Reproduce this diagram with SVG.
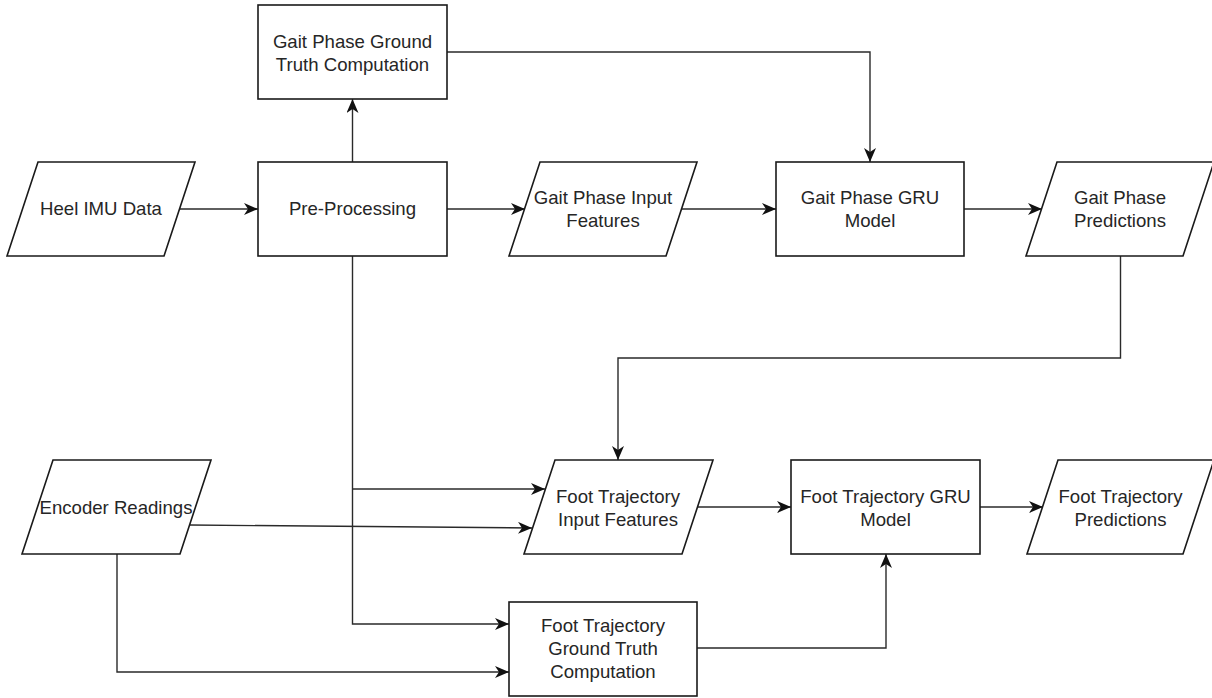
<svg xmlns="http://www.w3.org/2000/svg" width="1212" height="698" viewBox="0 0 1212 698">
<style>
.shape{fill:#ffffff;stroke:#1a1a1a;stroke-width:1.6}
.lbl{font-family:"Liberation Sans",Arial,Helvetica,sans-serif;font-size:18.6px;fill:#262626;text-anchor:middle}
.edge{fill:none;stroke:#2a2a2a;stroke-width:1.4}
</style>
<defs>
<marker id="arr" viewBox="0 0 14 12" refX="14" refY="6" markerWidth="14" markerHeight="12" orient="auto" markerUnits="userSpaceOnUse">
<path d="M0,0 L14,6 L0,12 L4,6 Z" fill="#111111"/>
</marker>
</defs>
<rect width="1212" height="698" fill="#ffffff"/>
<g id="connectors">
<path class="edge" d="M180,209 L258,209" marker-end="url(#arr)"/>
<path class="edge" d="M352.5,162 L352.5,99" marker-end="url(#arr)"/>
<path class="edge" d="M447,52 L870,52 L870,162" marker-end="url(#arr)"/>
<path class="edge" d="M447,209 L525,209" marker-end="url(#arr)"/>
<path class="edge" d="M682,209 L776,209" marker-end="url(#arr)"/>
<path class="edge" d="M964,209 L1042,209" marker-end="url(#arr)"/>
<path class="edge" d="M1120.5,256 L1120.5,358 L618,358 L618,460" marker-end="url(#arr)"/>
<path class="edge" d="M352.5,256 L352.5,624 L509,624" marker-end="url(#arr)"/>
<path class="edge" d="M352.5,489 L545,489" marker-end="url(#arr)"/>
<path class="edge" d="M190,525 L532,528" marker-end="url(#arr)"/>
<path class="edge" d="M117,554 L117,672 L509,672" marker-end="url(#arr)"/>
<path class="edge" d="M697,507 L791,507" marker-end="url(#arr)"/>
<path class="edge" d="M697,648 L886,648 L886,554" marker-end="url(#arr)"/>
<path class="edge" d="M980,507 L1043,507" marker-end="url(#arr)"/>
</g>
<g id="heel-imu">
<path class="shape" d="M38,162 L195,162 L164,256 L7,256 Z"/>
<text class="lbl" x="101" y="215">Heel IMU Data</text>
</g>
<g id="pre-processing">
<rect class="shape" x="258" y="162" width="189" height="94"/>
<text class="lbl" x="352.5" y="215">Pre-Processing</text>
</g>
<g id="gait-gt">
<rect class="shape" x="258" y="5" width="189" height="94"/>
<text class="lbl" x="352.5" y="47.5">Gait Phase Ground</text>
<text class="lbl" x="352.5" y="71">Truth Computation</text>
</g>
<g id="gait-input">
<path class="shape" d="M540,162 L697,162 L666,256 L509,256 Z"/>
<text class="lbl" x="603" y="204">Gait Phase Input</text>
<text class="lbl" x="603" y="227">Features</text>
</g>
<g id="gait-gru">
<rect class="shape" x="776" y="162" width="188" height="94"/>
<text class="lbl" x="870" y="204">Gait Phase GRU</text>
<text class="lbl" x="870" y="227">Model</text>
</g>
<g id="gait-pred">
<path class="shape" d="M1057,162 L1214,162 L1183,256 L1026,256 Z"/>
<text class="lbl" x="1120" y="204">Gait Phase</text>
<text class="lbl" x="1120" y="227">Predictions</text>
</g>
<g id="encoder">
<path class="shape" d="M53,460 L211,460 L180,554 L22,554 Z"/>
<text class="lbl" x="116" y="514">Encoder Readings</text>
</g>
<g id="foot-input">
<path class="shape" d="M555,460 L713,460 L682,554 L524,554 Z"/>
<text class="lbl" x="618" y="502.5">Foot Trajectory</text>
<text class="lbl" x="618" y="525.5">Input Features</text>
</g>
<g id="foot-gru">
<rect class="shape" x="791" y="460" width="189" height="94"/>
<text class="lbl" x="885.5" y="502.5">Foot Trajectory GRU</text>
<text class="lbl" x="885.5" y="525.5">Model</text>
</g>
<g id="foot-pred">
<path class="shape" d="M1058,460 L1214,460 L1183,554 L1027,554 Z"/>
<text class="lbl" x="1120.5" y="502.5">Foot Trajectory</text>
<text class="lbl" x="1120.5" y="525.5">Predictions</text>
</g>
<g id="foot-gt">
<rect class="shape" x="509" y="602" width="188" height="94"/>
<text class="lbl" x="603" y="632">Foot Trajectory</text>
<text class="lbl" x="603" y="655">Ground Truth</text>
<text class="lbl" x="603" y="678">Computation</text>
</g>
</svg>
